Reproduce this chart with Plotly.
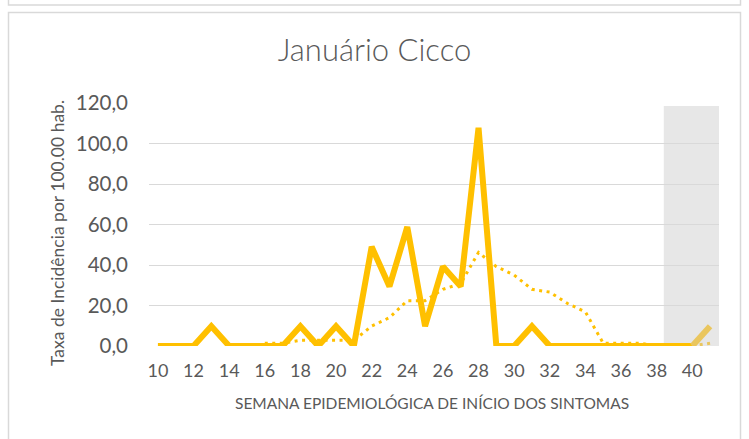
import plotly.graph_objects as go

# Epidemiological weeks shown on the category axis
weeks = list(range(10, 42))

# Incidence rate per 100 000 inhabitants, Januário Cicco
incidence = [0, 0, 0, 9.8, 0, 0, 0, 0, 9.8, 0,
             9.8, 0, 49.0, 29.4, 58.8, 9.8, 39.2, 29.4, 107.8, 0,
             0, 9.8, 0, 0, 0, 0, 0, 0, 0, 0,
             0, 9.8]

# 7-week moving average trend (weeks 16..41)
trend_weeks = list(range(16, 42))
trend = [1.4, 1.4, 2.8, 2.8, 2.8, 2.8, 9.8, 14.0, 22.4, 22.4,
         28.0, 30.8, 46.2, 39.2, 35.0, 28.0, 26.6, 21.0, 16.8, 1.4,
         1.4, 1.4, 0, 0, 0, 1.4]

# Weeks with incomplete notification (shaded band)
shade_start, shade_end, shade_top = 38.4, 41.5, 118.5

x_ticks = list(range(10, 41, 2))
y_ticks = [0, 20, 40, 60, 80, 100, 120]

GOLD = "#FFC000"
GOLD_SOFT = "#EAC65E"
TXT = "#595959"
GRID = "#D9D9D9"
FONT = "Lato"

# plot-area geometry in pixels
W, H = 749, 439
L, R, T, B = 149, 719, 103, 346


def px_x(p):
    return (p - L) / (R - L)


def px_y(p):
    return (B - p) / (B - T)


fig = go.Figure()

# solid series, last (provisional) segment in a softer tone
fig.add_trace(go.Scatter(
    x=weeks[:-1], y=incidence[:-1], mode="lines",
    line=dict(color=GOLD, width=6), hoverinfo="skip", showlegend=False))
fig.add_trace(go.Scatter(
    x=weeks[-2:], y=incidence[-2:], mode="lines",
    line=dict(color=GOLD_SOFT, width=6), hoverinfo="skip", showlegend=False))

# dotted moving-average trend
fig.add_trace(go.Scatter(
    x=trend_weeks[:-1], y=trend[:-1], mode="lines",
    line=dict(color=GOLD, width=3, dash="3px,4.5px"),
    hoverinfo="skip", showlegend=False))
fig.add_trace(go.Scatter(
    x=trend_weeks[-2:], y=trend[-2:], mode="lines",
    line=dict(color=GOLD_SOFT, width=3, dash="3px,4.5px"),
    hoverinfo="skip", showlegend=False))

shapes = [
    # shaded band
    dict(type="rect", xref="x", yref="y", x0=shade_start, x1=shade_end,
         y0=0, y1=shade_top, fillcolor="#E7E7E7", line_width=0, layer="below"),
    # chart frame
    dict(type="rect", xref="paper", yref="paper",
         x0=px_x(8.5), x1=px_x(740.5), y0=px_y(460), y1=px_y(12.5),
         line=dict(color="#D9D9D9", width=1.5), fillcolor="rgba(0,0,0,0)",
         layer="below"),
    # frame of the neighbouring chart above
    dict(type="rect", xref="paper", yref="paper",
         x0=px_x(8.5), x1=px_x(740.5), y0=px_y(5), y1=px_y(-40),
         line=dict(color="#D9D9D9", width=1.5), fillcolor="rgba(0,0,0,0)",
         layer="below"),
]

annotations = [
    dict(text="SEMANA EPIDEMIOLÓGICA DE INÍCIO DOS SINTOMAS",
         xref="paper", yref="paper", x=px_x(432), y=px_y(403),
         xanchor="center", yanchor="middle", showarrow=False,
         font=dict(family=FONT, size=15.5, color=TXT)),
    dict(text="Taxa de Incidência por 100.00 hab.",
         xref="paper", yref="paper", x=px_x(57), y=px_y(233),
         xanchor="center", yanchor="middle", showarrow=False, textangle=-90,
         font=dict(family=FONT, size=17.5, color=TXT)),
]

fig.update_layout(
    width=W, height=H,
    margin=dict(l=L, r=W - R, t=T, b=H - B, pad=0),
    paper_bgcolor="white", plot_bgcolor="white",
    separators=",.",
    title=dict(text="Januário Cicco", xref="container", yref="container",
               x=0.5, y=1 - 50 / H, xanchor="center", yanchor="middle",
               font=dict(family=FONT, size=31, color=TXT, weight=300)),
    shapes=shapes,
    annotations=annotations,
    xaxis=dict(range=[9.5, 41.5], tickmode="array", tickvals=x_ticks,
               showgrid=False, zeroline=False, showline=False, ticks="",
               ticklabelstandoff=12,
               tickfont=dict(family=FONT, size=18, color=TXT)),
    yaxis=dict(range=[0, 120], tickmode="array", tickvals=y_ticks,
               tickformat=".1f", showgrid=True, gridcolor=GRID, gridwidth=1.3,
               zeroline=False, showline=False, ticks="",
               ticklabelstandoff=20,
               tickfont=dict(family=FONT, size=20.5, color=TXT)),
)

fig.write_html("out.html")
